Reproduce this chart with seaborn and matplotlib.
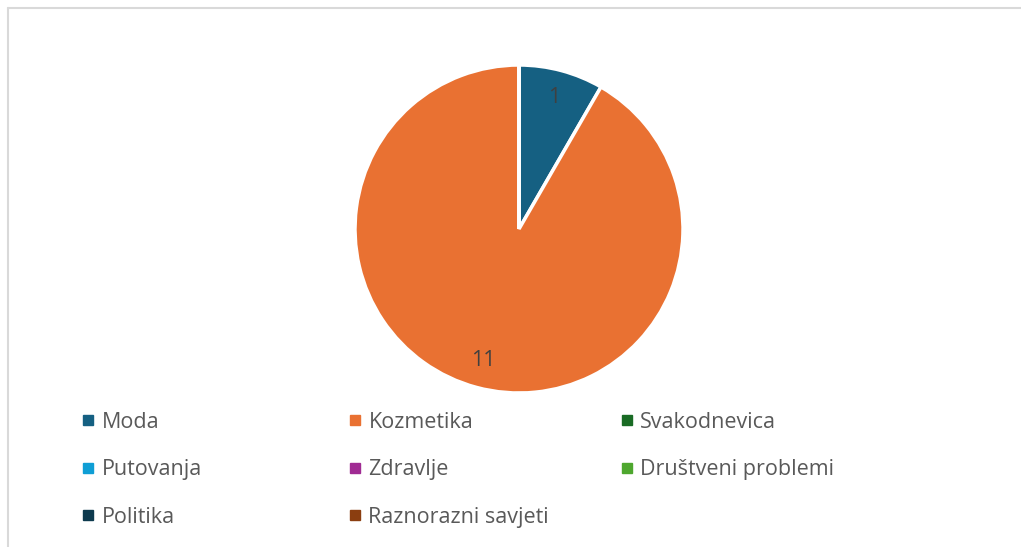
import matplotlib
matplotlib.use("Agg")
import matplotlib.pyplot as plt
from matplotlib.lines import Line2D
import seaborn as sns

# ---------------------------------------------------
# Data
# ---------------------------------------------------
categories = ["Moda", "Kozmetika", "Svakodnevica", "Putovanja",
              "Zdravlje", "Društveni problemi", "Politika", "Raznorazni savjeti"]
counts = [1, 11, 0, 0, 0, 0, 0, 0]
colors = ["#156082", "#E97132", "#196B24", "#0F9ED5",
          "#A02B93", "#4EA72E", "#0D3A4E", "#8B3E10"]

sns.set_theme(style="white")
plt.rcParams["font.family"] = ["Open Sans", "DejaVu Sans"]
palette = sns.color_palette(colors)

W, H = 1021, 547
fig = plt.figure(figsize=(W / 100, H / 100), dpi=100, edgecolor="white", linewidth=0)

# chart frame (only left/top edges visible in the crop)
fx, fy = 7.5 / W, 1 - 7.5 / H
fig.add_artist(Line2D([fx, fx], [0, fy], transform=fig.transFigure,
                      color="#d9d9d9", linewidth=1.5))
fig.add_artist(Line2D([fx, 1.01], [fy, fy], transform=fig.transFigure,
                      color="#d9d9d9", linewidth=1.5))

# pie
cx, cy, r = 519, 229, 164
ax = fig.add_axes([(cx - r) / W, (H - cy - r) / H, 2 * r / W, 2 * r / H])
total = sum(counts)
wedges, texts, autotexts = ax.pie(
    counts, colors=palette, startangle=90, counterclock=False,
    autopct=lambda p: f"{round(p * total / 100)}" if p > 0 else "",
    pctdistance=0.83,
    wedgeprops=dict(edgecolor="white", linewidth=2.5),
    textprops=dict(color="#404040", fontsize=15.5))
ax.set_xlim(-1, 1)
ax.set_ylim(-1, 1)
ax.set_aspect("equal")
ax.axis("off")

# legend, three columns placed separately
handles = [Line2D([], [], linestyle="", marker="s", markersize=6.5,
                  markerfacecolor=c, markeredgecolor=c) for c in colors]
col_x = [82, 349, 621]
col_idx = [[0, 3, 6], [1, 4, 7], [2, 5]]
for x, idx in zip(col_x, col_idx):
    leg = fig.legend([handles[i] for i in idx], [categories[i] for i in idx],
                     loc="upper left", bbox_to_anchor=(x / W, 1 - 412 / H),
                     frameon=False, fontsize=15.5, labelcolor="#595959",
                     handlelength=0.6, handletextpad=0.3, labelspacing=1.22,
                     borderpad=0, borderaxespad=0)

fig.savefig("out.png", dpi=100, facecolor="white", edgecolor="white")
